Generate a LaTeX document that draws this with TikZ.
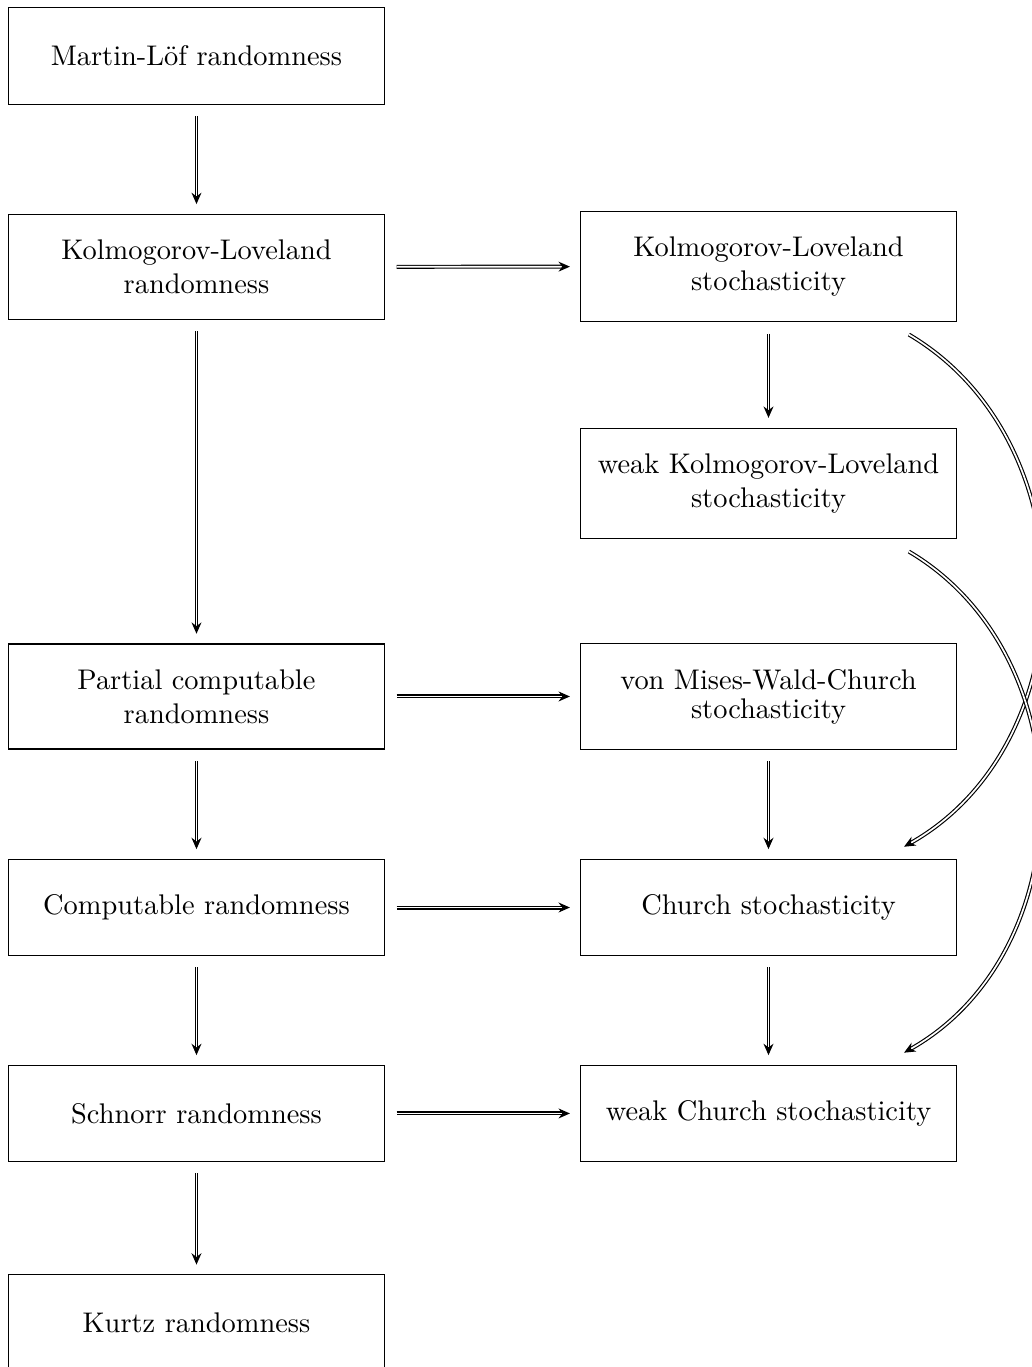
\documentclass[tikz,border=0pt]{standalone}
\usetikzlibrary{arrows.meta}
\begin{document}
\begin{tikzpicture}[
  box/.style={draw, minimum width=4.66cm, minimum height=1.19cm, inner ysep=9pt},
  impl/.style={double, -{Stealth[length=4pt,width=3.5pt]}},
  gap/.style={shorten <=0.14cm, shorten >=0.12cm}]
\useasboundingbox (0,0) rectangle (12.756,-16.913);
\node[box] (ml) at (2.431,-0.693) {Martin-L\"of randomness};
\node[box] (klr) at (2.431,-3.303) {\shortstack{Kolmogorov-Loveland\\randomness}};
\node[box] (kls) at (9.508,-3.297) {\shortstack{Kolmogorov-Loveland\\stochasticity}};
\node[box] (wkls) at (9.508,-5.982) {\shortstack{weak Kolmogorov-Loveland\\stochasticity}};
\node[box] (pcr) at (2.431,-8.617) {\shortstack{Partial computable\\randomness}};
\node[box] (vmwc) at (9.508,-8.617) {\shortstack{von Mises-Wald-Church\\stochasticity}};
\node[box] (cr) at (2.431,-11.228) {Computable randomness};
\node[box] (cs) at (9.508,-11.228) {Church stochasticity};
\node[box] (sr) at (2.431,-13.776) {Schnorr randomness};
\node[box] (wcs) at (9.508,-13.776) {weak Church stochasticity};
\node[box] (kr) at (2.431,-16.368) {Kurtz randomness};
\draw[impl,gap] (ml) -- (klr);
\draw[impl,gap] (klr) -- (pcr);
\draw[impl,gap] (pcr) -- (cr);
\draw[impl,gap] (cr) -- (sr);
\draw[impl,gap] (sr) -- (kr);
\draw[impl,gap] (kls) -- (wkls);
\draw[impl,gap] (vmwc) -- (cs);
\draw[impl,gap] (cs) -- (wcs);
\draw[impl,gap] (klr) -- (kls);
\draw[impl,gap] (pcr) -- (vmwc);
\draw[impl,gap] (cr) -- (cs);
\draw[impl,gap] (sr) -- (wcs);
\draw[impl] ([xshift=-0.6cm,yshift=-0.15cm]kls.south east) to[bend left=60, looseness=1.05] ([xshift=-0.66cm,yshift=0.15cm]cs.north east);
\draw[impl] ([xshift=-0.6cm,yshift=-0.15cm]wkls.south east) to[bend left=60, looseness=1.05] ([xshift=-0.66cm,yshift=0.15cm]wcs.north east);
\end{tikzpicture}
\end{document}
